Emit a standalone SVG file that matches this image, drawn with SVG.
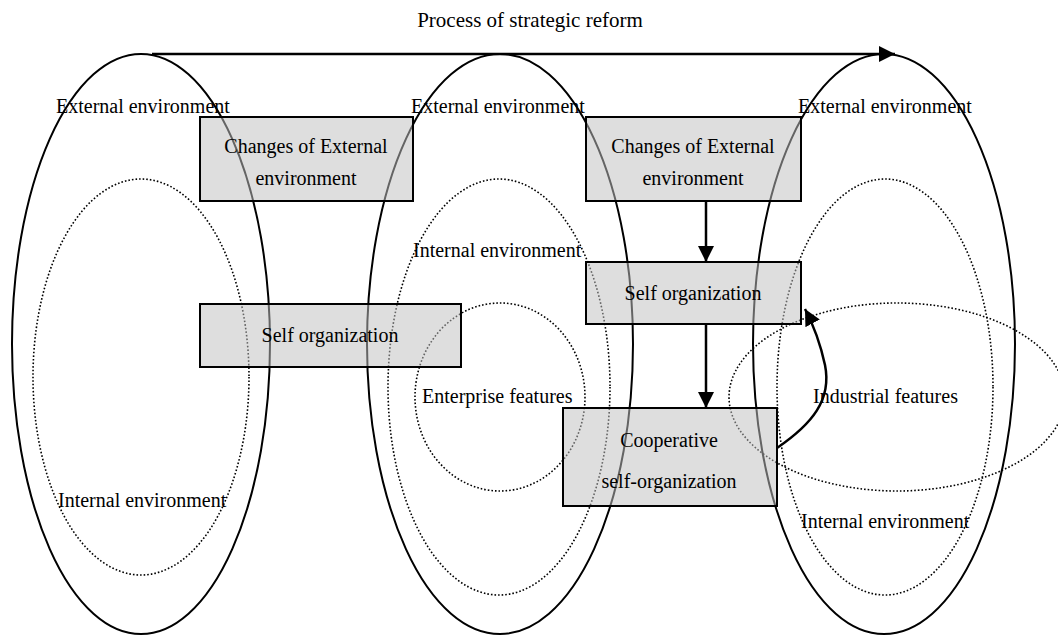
<svg xmlns="http://www.w3.org/2000/svg" width="1058" height="635" viewBox="0 0 1058 635">
<style>
  text { font-family: "Liberation Serif", "Times New Roman", serif; font-size: 20px; fill: #000; }
  .title { font-size: 21px; }
  .env { fill: none; stroke: #000; stroke-width: 2; }
  .dot { fill: none; stroke: #000; stroke-width: 1.6; stroke-dasharray: 1.6 2; }
  .box rect { fill: #c0c0c0; fill-opacity: 0.52; stroke: #000; stroke-width: 2; }
  .conn { fill: none; stroke: #000; stroke-width: 2.5; }
  .mid { text-anchor: middle; }
</style>
<defs>
  <marker id="ah" viewBox="0 0 10 10" refX="10" refY="5" markerWidth="6.5" markerHeight="6.5" markerUnits="strokeWidth" orient="auto">
    <path d="M0,0 L10,5 L0,10 z" fill="#000"/>
  </marker>
</defs>
<rect width="1058" height="635" fill="#fff"/>

<g id="ellipses">
  <ellipse class="env" cx="141" cy="344" rx="129" ry="290"/>
  <ellipse class="env" cx="500" cy="344" rx="133" ry="290"/>
  <ellipse class="env" cx="884" cy="344" rx="131" ry="290"/>
  <ellipse class="dot" cx="141" cy="377" rx="108" ry="198"/>
  <ellipse class="dot" cx="499" cy="387" rx="111" ry="208"/>
  <ellipse class="dot" cx="500" cy="397" rx="85" ry="94"/>
  <ellipse class="dot" cx="885" cy="387" rx="108" ry="208"/>
  <ellipse class="dot" cx="897" cy="397" rx="168" ry="94"/>
</g>

<g id="labels">
  <text class="title mid" x="530" y="27">Process of strategic reform</text>
  <text x="56" y="113">External environment</text>
  <text x="411" y="113">External environment</text>
  <text x="798" y="113">External environment</text>
  <text x="413" y="257">Internal environment</text>
  <text x="58" y="507">Internal environment</text>
  <text x="801" y="528">Internal environment</text>
  <text x="422" y="403">Enterprise features</text>
  <text x="813" y="403">Industrial features</text>
</g>

<g id="box-changes-1" class="box">
  <rect x="200" y="117" width="213" height="84"/>
  <text class="mid" x="306" y="153">Changes of External</text>
  <text class="mid" x="306" y="185">environment</text>
</g>
<g id="box-self-1" class="box">
  <rect x="200" y="304" width="261" height="63"/>
  <text class="mid" x="330" y="342">Self organization</text>
</g>
<g id="box-changes-2" class="box">
  <rect x="586" y="117" width="215" height="84"/>
  <text class="mid" x="693" y="153">Changes of External</text>
  <text class="mid" x="693" y="185">environment</text>
</g>
<g id="box-self-2" class="box">
  <rect x="586" y="262" width="215" height="62"/>
  <text class="mid" x="693" y="300">Self organization</text>
</g>
<g id="box-coop" class="box">
  <rect x="563" y="408" width="214" height="98"/>
  <text class="mid" x="669" y="447">Cooperative</text>
  <text class="mid" x="669" y="488">self-organization</text>
</g>

<g id="connectors">
  <line class="conn" x1="152" y1="54" x2="895" y2="54" marker-end="url(#ah)"/>
  <line class="conn" x1="706" y1="201" x2="706" y2="262" marker-end="url(#ah)"/>
  <line class="conn" x1="706" y1="324" x2="706" y2="408" marker-end="url(#ah)"/>
  <path class="conn" d="M777,448 C812,424 832,400 825,365 C820,342 814,326 805,309" marker-end="url(#ah)"/>
</g>
</svg>
